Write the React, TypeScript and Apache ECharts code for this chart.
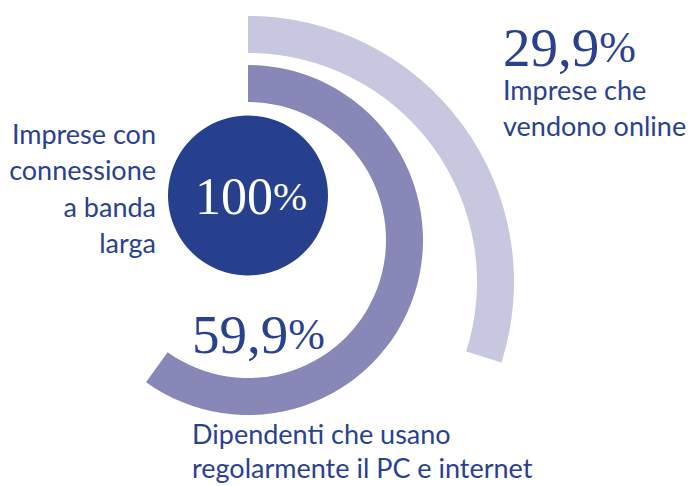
import React, { useEffect, useRef } from "react";
import * as echarts from "echarts";

// Data
const ringLabels = [
  "Imprese con\nconnessione\na banda\nlarga",
  "Dipendenti che usano\nregolarmente il PC e internet",
  "Imprese che\nvendono online",
];
const ringValues = [100, 59.9, 29.9];
const valueTexts = ["100", "59,9", "29,9"];

// Style / layout
const ringColors = ["#26408D", "#8888B8", "#C7C8E0"];
const textColor = "#2A4190";
const polars = [
  { center: [248, 195.5], radius: [0, 80] },
  { center: [248, 240], radius: [138, 175] },
  { center: [248, 282], radius: [229, 266] },
];
const numFont = "'Liberation Serif', serif";
const sansFont = "Lato, 'Open Sans', sans-serif";

export default function App() {
  const ref = useRef<HTMLDivElement>(null);
  useEffect(() => {
    if (!ref.current) return;
    const chart = echarts.init(ref.current, undefined, { renderer: "svg" });
    const valueText = (
      i: number,
      x: number,
      y: number,
      align: string,
      color: string,
      nSize: number,
      pSize: number
    ) => ({
      type: "text",
      x,
      y,
      z: 100,
      silent: true,
      style: {
        text: `{n|${valueTexts[i]}}{p|%}`,
        rich: {
          n: { fontFamily: numFont, fontSize: nSize, fill: color, lineHeight: 58 },
          p: { fontFamily: numFont, fontSize: pSize, fill: color, lineHeight: 58 },
        },
        fill: color,
        align,
        verticalAlign: "middle",
      },
    });
    const labelText = (i: number, x: number, y: number, align: string, lh: number) => ({
      type: "text",
      x,
      y,
      z: 100,
      silent: true,
      style: {
        text: ringLabels[i],
        fill: textColor,
        fontFamily: sansFont,
        fontSize: 27,
        lineHeight: lh,
        align,
        verticalAlign: "top",
      },
    });
    const option: any = {
      animation: false,
      polar: polars.map((p) => ({ center: p.center, radius: p.radius })),
      angleAxis: polars.map((_, i) => ({
        polarIndex: i,
        type: "value",
        min: 0,
        max: 100,
        startAngle: 90,
        clockwise: true,
        show: false,
        axisLine: { show: false },
        axisTick: { show: false },
        axisLabel: { show: false },
        splitLine: { show: false },
      })),
      radiusAxis: polars.map((_, i) => ({
        polarIndex: i,
        type: "category",
        data: [ringLabels[i]],
        show: false,
        axisLine: { show: false },
        axisTick: { show: false },
        axisLabel: { show: false },
        splitLine: { show: false },
      })),
      series: ringValues.map((v, i) => ({
        type: "bar",
        coordinateSystem: "polar",
        polarIndex: i,
        data: [v],
        barCategoryGap: "0%",
        itemStyle: { color: ringColors[i] },
        silent: true,
      })),
      graphic: [
        valueText(0, 251, 196, "center", "#ffffff", 52, 41),
        valueText(1, 192, 334, "left", textColor, 55, 44),
        valueText(2, 503, 47, "left", textColor, 55, 44),
        labelText(0, 156, 115, "right", 36.5),
        labelText(1, 192, 416, "left", 34),
        labelText(2, 503, 71, "left", 36.5),
      ],
    };
    chart.setOption(option);
    return () => chart.dispose();
  }, []);
  return (
    <div
      ref={ref}
      style={{ position: "fixed", left: 0, top: 0, width: 693, height: 486, background: "#fff" }}
    />
  );
}
